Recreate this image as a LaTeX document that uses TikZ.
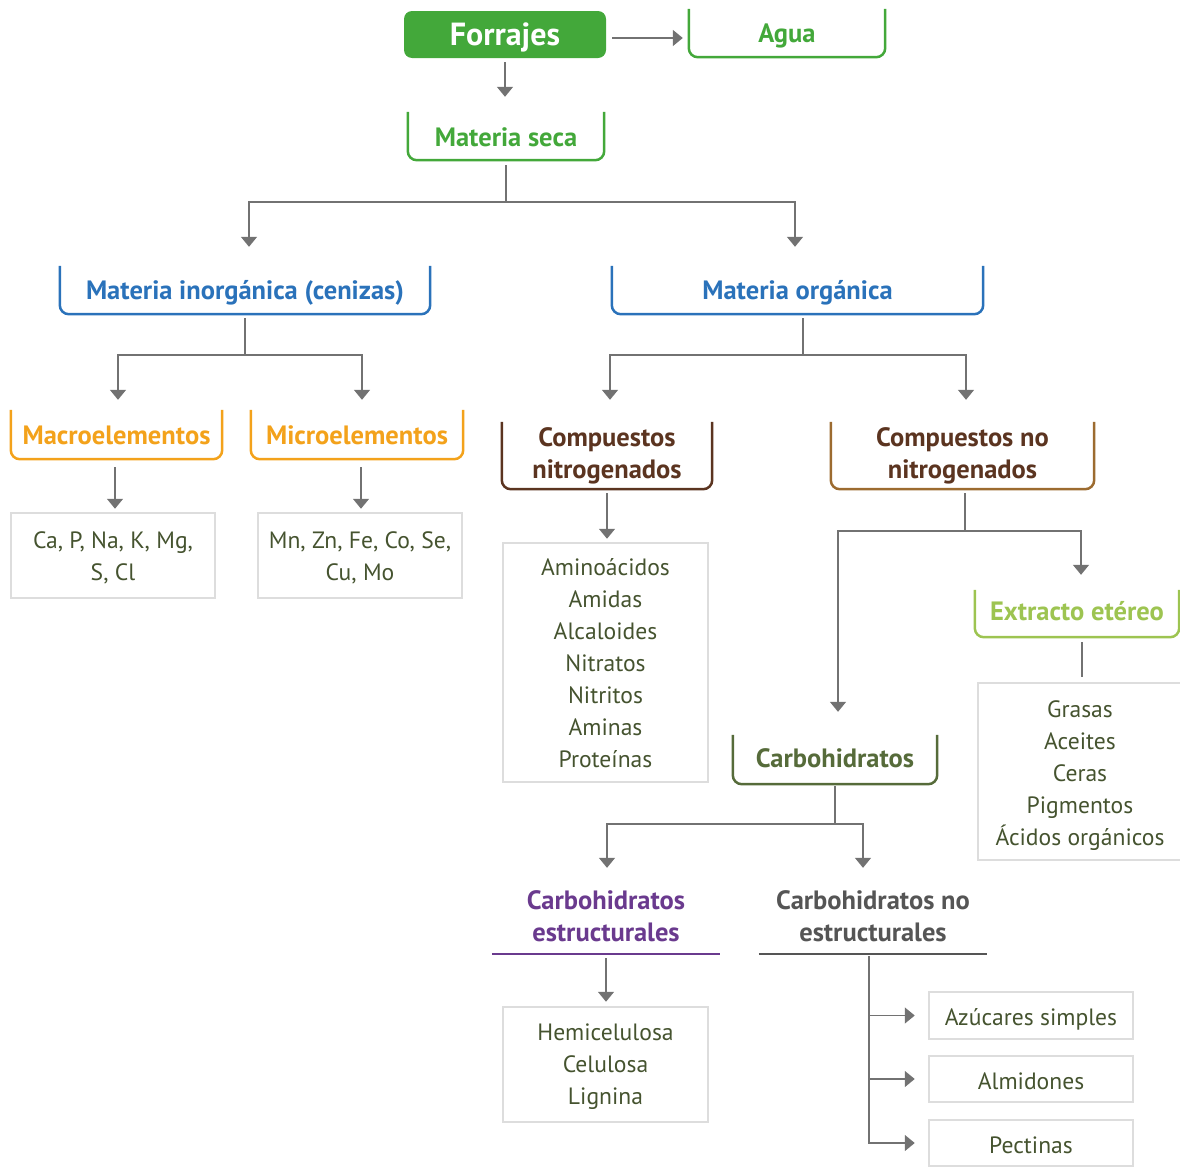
\documentclass[tikz,border=0pt]{standalone}
\usepackage{fontspec}
\setmainfont{PT Sans}
\usetikzlibrary{arrows.meta}
\definecolor{cgreen}{HTML}{43A83A}
\definecolor{cblue}{HTML}{2A72BA}
\definecolor{corange}{HTML}{F3A21B}
\definecolor{cbrown}{HTML}{5B3420}
\definecolor{cgold}{HTML}{9C6B30}
\definecolor{colive}{HTML}{566B3A}
\definecolor{clime}{HTML}{9DC451}
\definecolor{cpurple}{HTML}{6A3A8E}
\definecolor{cdgray}{HTML}{555555}
\definecolor{cgray}{HTML}{727272}
\definecolor{cbox}{HTML}{DDDDDD}
\definecolor{ctext}{HTML}{45532F}
\tikzset{
  conn/.style={draw=cgray, line width=1.5pt},
  arr/.style={conn, -{Triangle[width=16pt,length=10pt]}},
  title/.style={font=\fontsize{26.5}{32}\selectfont\bfseries, align=center, inner sep=0pt},
  item/.style={font=\fontsize{23.6}{32}\selectfont, align=center, text=ctext, inner sep=0pt},
  listbox/.style={item, draw=cbox, line width=2.5pt},
  brk/.style={line width=2.5pt, rounded corners=9pt},
  uline/.style={line width=2.5pt},
}
\newcommand\dn[2][2.5pt]{\raisebox{-#1}[\height][\depth]{\begin{tabular}{@{}c@{}}#2\end{tabular}}}
\newcommand\bracketbox[2]{\draw[brk,#1] (#2.north west) -- (#2.south west) -- (#2.south east) -- (#2.north east);}
\begin{document}
\begin{tikzpicture}[x=1pt,y=-1pt]
\useasboundingbox (0,0) rectangle (1180,1167);
% nodes
\node[title, fill=cgreen, rounded corners=8pt, minimum width=202pt, minimum height=47pt, text=white, font=\fontsize{32}{32}\selectfont\bfseries] (forrajes) at (505,34.5) {\dn[4pt]{Forrajes}};
\node[title, text=cgreen, minimum width=196pt, minimum height=48pt] (agua) at (787,33) {\dn[3.5pt]{Agua}};
\node[title, text=cgreen, minimum width=196pt, minimum height=48pt] (seca) at (506,136) {\dn[4pt]{Materia seca}};
\node[title, text=cblue, minimum width=370pt, minimum height=48pt] (inorg) at (245,290) {\dn[3.5pt]{Materia inorgánica (cenizas)}};
\node[title, text=cblue, minimum width=371pt, minimum height=48pt] (org) at (797.5,290) {\dn[3.5pt]{Materia orgánica}};
\node[title, text=corange, minimum width=211pt, minimum height=49pt] (macro) at (116.5,434.5) {\dn[3.5pt]{Macroelementos}};
\node[title, text=corange, minimum width=212pt, minimum height=49pt] (micro) at (357,434.5) {\dn[3.5pt]{Microelementos}};
\node[title, text=cbrown, minimum width=210pt, minimum height=67pt] (cn) at (607,455.5) {\dn[1pt]{Compuestos\\nitrogenados}};
\node[title, text=cbrown, minimum width=263pt, minimum height=67pt] (cnn) at (962.5,455.5) {\dn[1pt]{Compuestos no\\nitrogenados}};
\node[listbox, minimum width=204pt, minimum height=85pt] (macroL) at (113,555.5) {\dn{Ca, P, Na, K, Mg,\\S, Cl}};
\node[listbox, minimum width=204pt, minimum height=85pt] (microL) at (360,555.5) {\dn{Mn, Zn, Fe, Co, Se,\\Cu, Mo}};
\node[listbox, minimum width=205pt, minimum height=239pt] (cnL) at (605.5,662.5) {\dn[3pt]{Aminoácidos\\Amidas\\Alcaloides\\Nitratos\\Nitritos\\Aminas\\Proteínas}};
\node[title, text=clime, minimum width=204pt, minimum height=47pt] (ext) at (1077,613.5) {\dn[0.5pt]{Extracto etéreo}};
\node[listbox, minimum width=204pt, minimum height=177pt] (extL) at (1080,771.5) {\dn[3.5pt]{Grasas\\Aceites\\Ceras\\Pigmentos\\Ácidos orgánicos}};
\node[title, text=colive, minimum width=204pt, minimum height=49pt] (carb) at (835,759.5) {\dn[2pt]{Carbohidratos}};
\node[title, text=cpurple, minimum width=228pt, minimum height=76pt] (ce) at (606,916) {\dn[3pt]{Carbohidratos\\estructurales}};
\node[title, text=cdgray, minimum width=228pt, minimum height=76pt] (cne) at (873,916) {\dn[3pt]{Carbohidratos no\\estructurales}};
\node[listbox, minimum width=205pt, minimum height=115pt] (ceL) at (605.5,1064.5) {\dn[1.5pt]{Hemicelulosa\\Celulosa\\Lignina}};
\node[listbox, minimum width=204pt, minimum height=47pt] (azu) at (1031,1015.5) {\dn[4pt]{Azúcares simples}};
\node[listbox, minimum width=204pt, minimum height=46pt] (alm) at (1031,1079) {\dn[4pt]{Almidones}};
\node[listbox, minimum width=204pt, minimum height=46pt] (pec) at (1031,1143) {\dn[4pt]{Pectinas}};
% brackets
\bracketbox{cgreen}{agua}
\bracketbox{cgreen}{seca}
\bracketbox{cblue}{inorg}
\bracketbox{cblue}{org}
\bracketbox{corange}{macro}
\bracketbox{corange}{micro}
\bracketbox{cbrown}{cn}
\bracketbox{cgold}{cnn}
\bracketbox{clime}{ext}
\bracketbox{colive}{carb}
\draw[uline, cpurple] (ce.south west) -- (ce.south east);
\draw[uline, cdgray] (cne.south west) -- (cne.south east);
% connectors
\draw[arr, shorten <=6pt, shorten >=6pt] ([yshift=-3.5pt]forrajes.east) -- ([yshift=-3.5pt]forrajes.east -| agua.west);
\draw[arr, shorten <=4pt, shorten >=15pt] (forrajes.south) -- (forrajes.south |- seca.north);
\draw[arr, shorten <=5pt, shorten >=19pt] (seca.south) -- (seca.south |- 0,202) -| ([xshift=4pt]inorg.north);
\draw[arr, shorten <=5pt, shorten >=19pt] (seca.south) -- (seca.south |- 0,202) -| ([xshift=-2.5pt]org.north);
\draw[arr, shorten <=4pt, shorten >=10pt] (inorg.south) -- (inorg.south |- 0,355) -| ([xshift=1.5pt]macro.north);
\draw[arr, shorten <=4pt, shorten >=10pt] (inorg.south) -- (inorg.south |- 0,355) -| ([xshift=5pt]micro.north);
\draw[arr, shorten <=4pt, shorten >=22pt] ([xshift=5.5pt]org.south) -- ([xshift=5.5pt]org.south |- 0,355) -| ([xshift=3pt]cn.north);
\draw[arr, shorten <=4pt, shorten >=22pt] ([xshift=5.5pt]org.south) -- ([xshift=5.5pt]org.south |- 0,355) -| ([xshift=3.5pt]cnn.north);
\draw[arr, shorten <=8pt, shorten >=3pt] ([xshift=-1.5pt]macro.south) -- ([xshift=-1.5pt]macro.south |- macroL.north);
\draw[arr, shorten <=8pt, shorten >=3pt] ([xshift=4pt]micro.south) -- ([xshift=4pt]micro.south |- microL.north);
\draw[arr, shorten <=4pt, shorten >=3pt] (cn.south) -- (cn.south |- cnL.north);
\draw[arr, shorten <=4pt, shorten >=23pt] ([xshift=2.5pt]cnn.south) -- ([xshift=2.5pt]cnn.south |- 0,531) -| ([xshift=3pt]carb.north);
\draw[arr, shorten <=4pt, shorten >=15pt] ([xshift=2.5pt]cnn.south) -- ([xshift=2.5pt]cnn.south |- 0,531) -| ([xshift=4pt]ext.north);
\draw[conn, shorten <=5pt, shorten >=5pt] ([xshift=5pt]ext.south) -- ([xshift=5pt]ext.south |- extL.north);
\draw[arr, shorten <=2pt, shorten >=10pt] (carb.south) -- (carb.south |- 0,824) -| ([xshift=1pt]ce.north);
\draw[arr, shorten <=2pt, shorten >=10pt] (carb.south) -- (carb.south |- 0,824) -| ([xshift=-10pt]cne.north);
\draw[arr, shorten <=4pt, shorten >=4pt] (ce.south) -- (ce.south |- ceL.north);
\draw[arr, shorten <=2pt, shorten >=13pt] ([xshift=-4pt]cne.south) |- (azu.west);
\draw[arr, shorten <=2pt, shorten >=13pt] ([xshift=-4pt]cne.south) |- (alm.west);
\draw[arr, shorten <=2pt, shorten >=13pt] ([xshift=-4pt]cne.south) |- (pec.west);
\end{tikzpicture}
\end{document}
